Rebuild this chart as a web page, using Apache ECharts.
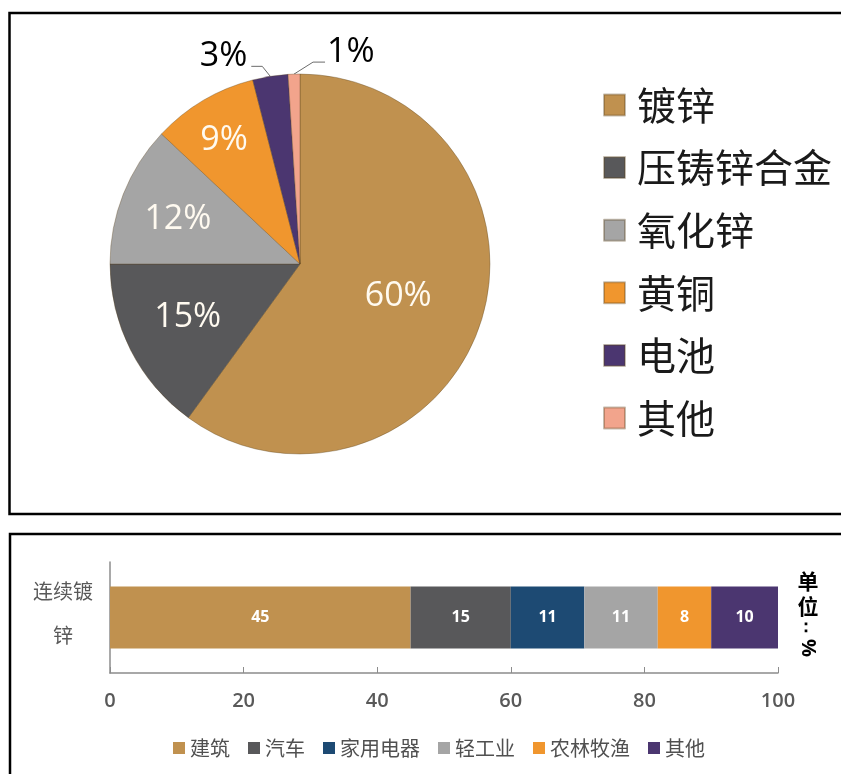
<!DOCTYPE html>
<html><head><meta charset="utf-8">
<script src="https://cdn.jsdelivr.net/npm/echarts@6/dist/echarts.min.js"></script>
<style>
html,body{margin:0;padding:0;background:#fff;overflow:hidden;}
#c1{position:absolute;left:0;top:0;width:841px;height:524px;}
#c2{position:absolute;left:0;top:524px;width:841px;height:250px;}
</style></head><body>
<div id="c1"></div><div id="c2"></div>
<script>
// ---- Pie data ----
const pieNames = ['镀锌', '压铸锌合金', '氧化锌', '黄铜', '电池', '其他'];
const pieValues = [60, 15, 12, 9, 3, 1];
// ---- Bar data ----
const barCategories = ['连续镀锌'];
const barSeriesNames = ['建筑', '汽车', '家用电器', '轻工业', '农林牧渔', '其他'];
const barValues = [45, 15, 11, 11, 8, 10];
const xTickMin = 0, xTickMax = 100, xTickStep = 20;
const unitLabel = ['单\n位', '：', '%'];

// ---- styles ----
const pieColors = ['#c0914f', '#58585a', '#a5a5a5', '#f0962e', '#4b3670', '#f2a48c'];
const barColors = ['#c0914f', '#58585a', '#1d4a73', '#a5a5a5', '#f0962e', '#4b3670'];
const pieLabelOffsets = [[5, 2], [-25, 9], [-31, -9], [-26, -39], null, null];
const outsideIdx = [4, 5];
const cjk = '"Noto Sans CJK SC","Noto Sans",sans-serif';
const num = '"Open Sans","Noto Sans",sans-serif';

const c1 = echarts.init(document.getElementById('c1'));
const pieData = pieNames.map((n, i) => {
  const outside = outsideIdx.includes(i);
  return {
    name: n, value: pieValues[i],
    label: outside ? { position: 'outside', color: '#000' }
                   : { position: 'inside', offset: pieLabelOffsets[i] }
  };
});

c1.setOption({
  animation: false,
  color: pieColors,
  graphic: [{
    type: 'rect', silent: true,
    shape: { x: 9.5, y: 13, width: 900, height: 501 },
    style: { fill: 'none', stroke: '#000', lineWidth: 2.5 }
  }],
  legend: {
    orient: 'vertical', left: 598, top: 80,
    icon: 'rect', itemWidth: 21, itemHeight: 21, itemGap: 22.6,
    textStyle: { fontSize: 39, lineHeight: 40, color: '#1a1a1a', fontFamily: cjk, padding: [0, 0, 0, 7] },
    data: pieNames
  },
  series: [{
    type: 'pie', center: [300, 264], radius: 190, startAngle: 90, clockwise: true,
    avoidLabelOverlap: false,
    itemStyle: { borderColor: 'rgba(90,65,30,0.35)', borderWidth: 1 },
    label: { formatter: '{c}%', fontSize: 34, fontFamily: num, color: '#fffaf0' },
    labelLine: { show: true, length: 10, length2: 10, lineStyle: { color: '#6b6b6b', width: 1 } },
    labelLayout: function (p) {
      if (!outsideIdx.includes(p.dataIndex)) return {};
      let p0 = p.labelLinePoints && p.labelLinePoints[0];
      if (!p0) {
        const lay = c1.getModel().getSeriesByIndex(0).getData().getItemLayout(p.dataIndex);
        const a = (lay.startAngle + lay.endAngle) / 2;
        p0 = [lay.cx + lay.r * Math.cos(a), lay.cy + lay.r * Math.sin(a)];
      }
      if (p.dataIndex === 4) {
        const p1 = [p0[0] - 8, p0[1] - 10], p2 = [p1[0] - 11, p1[1]];
        return { x: p2[0] - 4, y: p2[1] - 10, align: 'right', verticalAlign: 'middle', labelLinePoints: [p0, p1, p2] };
      } else {
        const p1 = [p0[0] + 19, p0[1] - 12], p2 = [p1[0] + 12, p1[1]];
        return { x: p2[0] + 2, y: p2[1] - 10, align: 'left', verticalAlign: 'middle', labelLinePoints: [p0, p1, p2] };
      }
    },
    emphasis: { disabled: true },
    data: pieData
  }]
});

const c2 = echarts.init(document.getElementById('c2'));
c2.setOption({
  animation: false,
  color: barColors,
  graphic: [{
    type: 'rect', silent: true,
    shape: { x: 10, y: 10, width: 900, height: 400 },
    style: { fill: 'none', stroke: '#000', lineWidth: 2.5 }
  }, {
    type: 'text', x: 808, y: 45, silent: true,
    style: { text: unitLabel[0], font: 'bold 21px ' + cjk, fill: '#000', align: 'center', lineHeight: 25 }
  }, {
    type: 'text', x: 806, y: 103, silent: true,
    style: { text: unitLabel[1], font: 'bold 18px ' + num, fill: '#000', align: 'center', verticalAlign: 'middle' }
  }, {
    type: 'text', x: 808, y: 124, rotation: -Math.PI / 2, silent: true,
    style: { text: unitLabel[2], font: 'bold 20px ' + num, fill: '#000', align: 'center', verticalAlign: 'middle' }
  }],
  grid: { left: 110, right: 63, top: 38, height: 111 },
  legend: {
    left: 168, top: 209, icon: 'rect', itemWidth: 12, itemHeight: 12, itemGap: 18,
    textStyle: { fontSize: 20, color: '#505050', fontFamily: cjk },
    data: barSeriesNames
  },
  xAxis: {
    type: 'value', min: xTickMin, max: xTickMax, interval: xTickStep,
    axisLine: { show: true, lineStyle: { color: '#8c8c8c', width: 1.5 } },
    axisTick: { show: true, inside: true, length: 6, lineStyle: { color: '#8c8c8c' } },
    splitLine: { show: false },
    axisLabel: { fontSize: 20, color: '#595959', fontFamily: num, fontWeight: 600, margin: 18 }
  },
  yAxis: {
    type: 'category', data: barCategories,
    axisLine: { show: true, lineStyle: { color: '#8c8c8c', width: 1.5 } },
    axisTick: { show: false },
    axisLabel: {
      fontSize: 20, color: '#595959', fontFamily: cjk, align: 'center', margin: 47,
      formatter: v => '{a|' + v.slice(0, 3) + '}\n{a|' + v.slice(3) + '}\n{b|}',
      rich: { a: { fontSize: 20, color: '#595959', fontFamily: cjk, lineHeight: 44 }, b: { lineHeight: 8 } }
    }
  },
  series: barSeriesNames.map((n, i) => ({
    name: n, type: 'bar', stack: 'total', barWidth: 62,
    label: { show: true, position: 'inside', color: '#fff', fontSize: 16, fontWeight: 'bold', fontFamily: num },
    emphasis: { disabled: true },
    data: [barValues[i]]
  }))
});
</script></body></html>
